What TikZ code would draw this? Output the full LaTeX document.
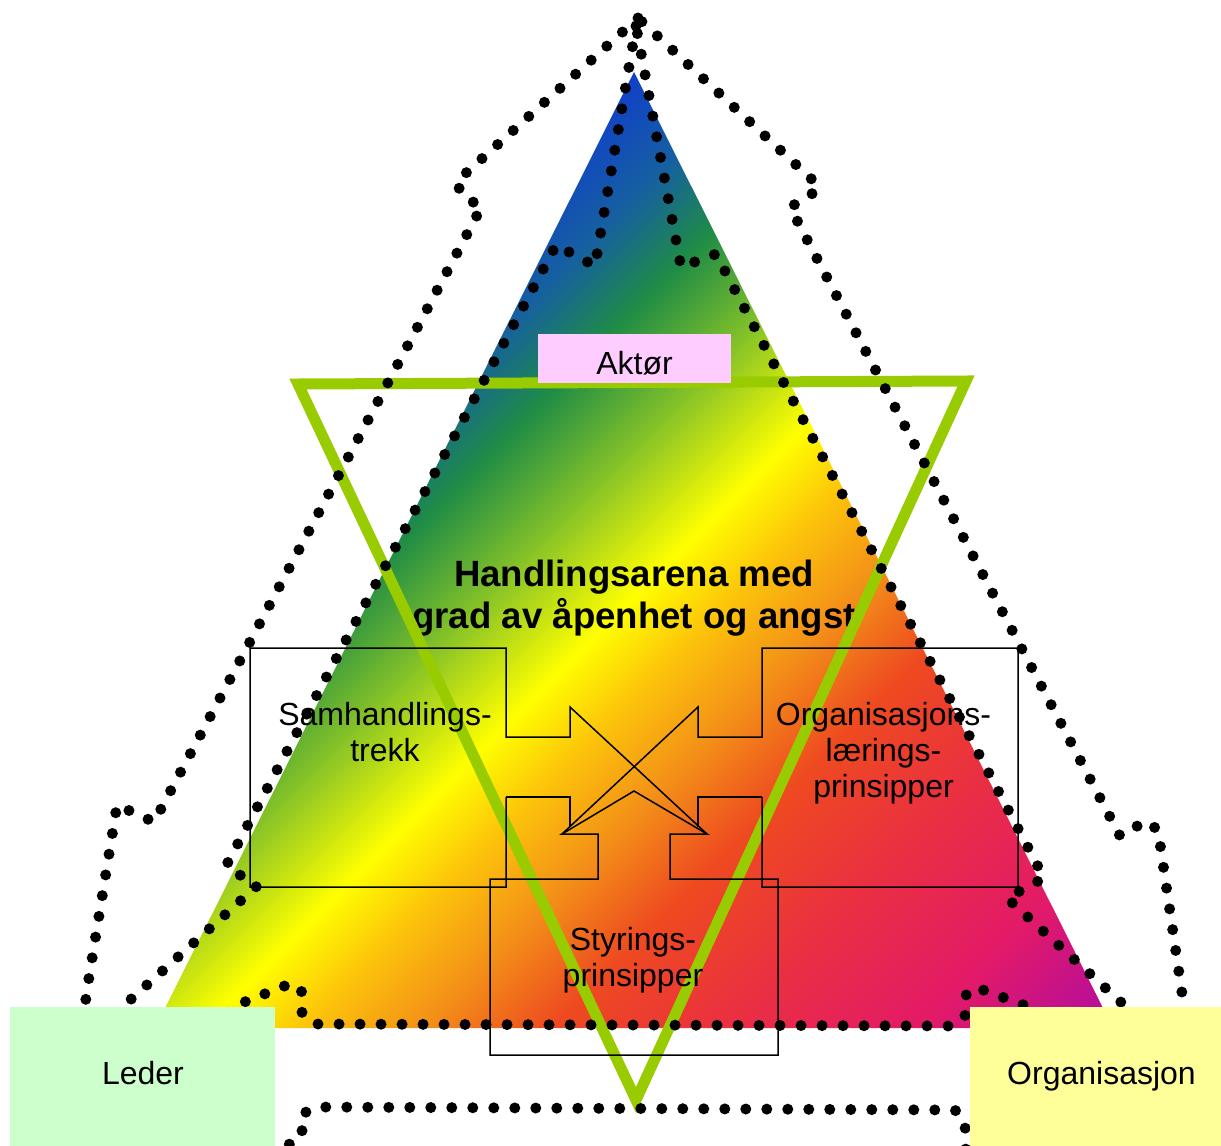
\documentclass[tikz,border=0pt]{standalone}
\usepackage{fontspec}
\setmainfont{Liberation Sans}
\definecolor{g1}{HTML}{1040C8}
\definecolor{g2}{HTML}{1660A0}
\definecolor{g3}{HTML}{1E8C46}
\definecolor{g4}{HTML}{7DBE2A}
\definecolor{g5}{HTML}{FFFF00}
\definecolor{g6}{HTML}{FCC40A}
\definecolor{g7}{HTML}{F39018}
\definecolor{g8}{HTML}{EE4A20}
\definecolor{g9}{HTML}{EA3040}
\definecolor{g10}{HTML}{E31A68}
\definecolor{g11}{HTML}{B00CA0}
\definecolor{aktorpink}{HTML}{FFCCFF}
\definecolor{ledergreen}{HTML}{CCFFCC}
\definecolor{orgyellow}{HTML}{FFFF99}
\definecolor{greenline}{HTML}{99CC00}
\pgfdeclarehorizontalshading{rainbowtri}{100bp}{color(0bp)=(g1); color(33.1bp)=(g1); color(37.5bp)=(g2); color(41.4bp)=(g3); color(46bp)=(g4); color(51.6bp)=(g5); color(55.2bp)=(g6); color(59.4bp)=(g7); color(64bp)=(g8); color(70bp)=(g9); color(77.1bp)=(g10); color(83.8bp)=(g11); color(100bp)=(g11)}
\tikzset{
  dotline/.style={line width=5.5pt, line cap=round, line join=round, dash pattern=on 0pt off 10.5pt},
  calloutline/.style={line width=0.75pt, draw=black},
  lbl/.style={font=\fontsize{16pt}{18pt}\selectfont, align=center, inner sep=0pt, anchor=base},
  titlelbl/.style={font=\fontsize{18.3pt}{21pt}\selectfont\bfseries, align=center, inner sep=0pt, anchor=base},
  bigtri/.style={line width=5.5pt, draw=greenline}
}
\begin{document}
\begin{tikzpicture}[x=0.5pt,y=-0.5pt]
\useasboundingbox (0,0) rectangle (1221,1146);
\clip (0,0) rectangle (1221,1146);
% gradient triangle
\begin{scope}
  \clip (634,72) -- (1113,1028) -- (155,1028) -- cycle;
  \shade[shading=rainbowtri, shading angle=-45] (134,50) rectangle (1134,1050);
\end{scope}
% title (anchor base = last line)
\node[titlelbl] (title) at (634,628) {Handlingsarena med\\grad av åpenhet og angst};
% green inverted triangle
\draw[bigtri] (298,384) -- (966,381) -- (636,1100) -- cycle;
% callout shapes
\draw[calloutline] (506,797) -- (506,887) -- (250,887) -- (250,648) -- (506,648) -- (506,737) -- (570,737) -- (570,707) -- (707,834);
\draw[calloutline] (506,797) -- (570,797) -- (570,827);
\draw[calloutline] (762,797) -- (762,887) -- (1018,887) -- (1018,648) -- (762,648) -- (762,737) -- (698,737) -- (698,707) -- (562,834);
\draw[calloutline] (762,797) -- (698,797) -- (698,827);
\draw[calloutline] (598,834) -- (598,879) -- (490,879) -- (490,1055) -- (778,1055) -- (778,879) -- (670,879) -- (670,834) -- (707,834) -- (634,791) -- (562,834) -- cycle;
\node[lbl] (samh) at (385,761) {Samhandlings-\\trekk};
\node[lbl] (orgl) at (883.5,797) {Organisasjons-\\lærings-\\prinsipper};
\node[lbl] (styr) at (633,986) {Styrings-\\prinsipper};
% dotted outlines
\draw[dotline] (638,18) -- (456,182) -- (464,198) -- (482,206) -- (154,822) -- (117,805) -- (86,996) -- (80,1100) -- (250,1132) -- (292,1145) -- (302,1134) -- (302,1114) -- (317,1107) -- (955,1110) -- (965,1122) -- (966,1160) -- (1186,1160) -- (1183,1000) -- (1158,830) -- (1146,821) -- (1120,836) -- (790,207) -- (809,197) -- (819,186) -- cycle;
\draw[dotline] (636,26) -- (595,266) -- (556,245) -- (226,866) -- (257,886) -- (129,1001) -- (100,1040) -- (215,1030) -- (232,1007) -- (292,983) -- (302,992) -- (302,1013) -- (314,1024) -- (952,1026) -- (965,1016) -- (965,996) -- (975,987) -- (1040,1011) -- (1100,1040) -- (1135,1015) -- (1007,898) -- (1044,878) -- (716,254) -- (681,267) -- cycle;
% label boxes
\path[fill=aktorpink] (538,334) rectangle (731,383);
\node[lbl] (aktor) at (634.5,374) {Aktør};
\path[fill=ledergreen] (10,1007) rectangle (275,1150);
\node[lbl] (leder) at (143,1084) {Leder};
\path[fill=orgyellow] (970,1007) rectangle (1225,1150);
\node[lbl] (org) at (1101.5,1084) {Organisasjon};
\end{tikzpicture}
\end{document}
